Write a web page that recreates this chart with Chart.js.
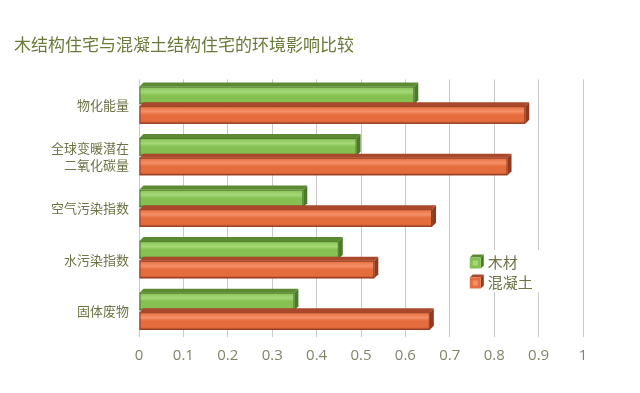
<!DOCTYPE html>
<html>
<head>
<meta charset="utf-8">
<script src="https://cdn.jsdelivr.net/npm/chart.js@4/dist/chart.umd.min.js"></script>
<style>
html,body{margin:0;padding:0;background:#fff;}
#wrap{width:640px;height:393px;}
</style>
</head>
<body>
<div id="wrap"><canvas id="c" width="640" height="393"></canvas></div>
<script>
const categories = ['物化能量', ['全球变暖潜在','二氧化碳量'], '空气污染指数', '水污染指数', '固体废物'];
const woodValues = [0.62, 0.49, 0.37, 0.45, 0.35];
const concreteValues = [0.87, 0.83, 0.66, 0.53, 0.655];
const seriesNames = ['木材', '混凝土'];
const xTicks = [0, 0.1, 0.2, 0.3, 0.4, 0.5, 0.6, 0.7, 0.8, 0.9, 1];

const FONT = '"Noto Sans CJK SC", "Noto Sans", sans-serif';
const palettes = [
  {front:'#86c052', light:'#a6d878', dark:'#5b8a33', edge:'#4d7a2a'},
  {front:'#e56c3c', light:'#f59068', dark:'#a9482a', edge:'#8f3b22'}
];

const bar3d = {
  id: 'bar3d',
  afterDatasetsDraw(chart) {
    const ctx = chart.ctx;
    const d = 4;
    chart.data.datasets.forEach((ds, di) => {
      const p = palettes[di];
      chart.getDatasetMeta(di).data.forEach(el => {
        const {x, y, base, height} = el.getProps(['x','y','base','height'], true);
        const top = y - height/2, bot = y + height/2;
        ctx.save();
        const g = ctx.createLinearGradient(0, top, 0, bot);
        g.addColorStop(0, p.front);
        g.addColorStop(0.3, p.light);
        g.addColorStop(0.5, p.front);
        g.addColorStop(0.85, p.front);
        g.addColorStop(1, p.dark);
        ctx.fillStyle = g;
        ctx.fillRect(base, top, x - base, height);
        ctx.strokeStyle = p.edge;
        ctx.lineWidth = 1;
        ctx.strokeRect(base + 0.5, top + 0.5, x - base - 1, height - 1);
        ctx.fillStyle = p.dark;
        ctx.beginPath();
        ctx.moveTo(base, top);
        ctx.lineTo(base + d, top - d);
        ctx.lineTo(x + d, top - d);
        ctx.lineTo(x, top);
        ctx.closePath();
        ctx.fill();
        ctx.fillStyle = p.edge;
        ctx.beginPath();
        ctx.moveTo(x, top);
        ctx.lineTo(x + d, top - d);
        ctx.lineTo(x + d, bot - d);
        ctx.lineTo(x, bot);
        ctx.closePath();
        ctx.fill();
        ctx.restore();
      });
    });
  }
};

const legend3d = {
  id: 'legend3d',
  afterDraw(chart) {
    const ctx = chart.ctx;
    const xs = chart.scales.x;
    const lx = xs.getPixelForValue(0.745);
    const ys = [262, 282];
    ctx.save();
    ctx.fillStyle = '#fff';
    ctx.fillRect(lx - 4, 250, 76, 42);
    seriesNames.forEach((name, i) => {
      const p = palettes[i];
      const cy = ys[i];
      const s = 11, d = 3;
      const bx = lx, by = cy - s/2 + 1;
      ctx.fillStyle = p.dark;
      ctx.beginPath();
      ctx.moveTo(bx, by); ctx.lineTo(bx + d, by - d); ctx.lineTo(bx + s + d, by - d); ctx.lineTo(bx + s, by); ctx.closePath(); ctx.fill();
      ctx.fillStyle = p.edge;
      ctx.beginPath();
      ctx.moveTo(bx + s, by); ctx.lineTo(bx + s + d, by - d); ctx.lineTo(bx + s + d, by + s - d); ctx.lineTo(bx + s, by + s); ctx.closePath(); ctx.fill();
      ctx.fillStyle = p.front;
      ctx.fillRect(bx, by, s, s);
      ctx.fillStyle = p.light;
      ctx.fillRect(bx + 3, by + 3, s - 6, s - 6);
      ctx.fillStyle = '#6e7346';
      ctx.font = '15px ' + FONT;
      ctx.textBaseline = 'middle';
      ctx.textAlign = 'left';
      ctx.fillText(name, bx + s + 7, cy);
    });
    ctx.restore();
  }
};

new Chart(document.getElementById('c'), {
  type: 'bar',
  data: {
    labels: categories,
    datasets: [
      {label: seriesNames[0], data: woodValues, backgroundColor: 'rgba(0,0,0,0)', borderWidth: 0},
      {label: seriesNames[1], data: concreteValues, backgroundColor: 'rgba(0,0,0,0)', borderWidth: 0}
    ]
  },
  options: {
    indexAxis: 'y',
    responsive: false,
    animation: false,
    categoryPercentage: 0.76,
    barPercentage: 0.9,
    layout: {padding: {left: 14, right: 57, top: 0, bottom: 0}},
    plugins: {
      legend: {display: false},
      tooltip: {enabled: false},
      title: {
        display: true,
        text: '木结构住宅与混凝土结构住宅的环境影响比较',
        align: 'start',
        color: '#6b7a3b',
        font: {family: FONT, size: 17, weight: 'normal'},
        padding: {top: 34, bottom: 25}
      }
    },
    scales: {
      x: {
        min: 0, max: 1,
        afterBuildTicks(scale) { scale.ticks = xTicks.map(v => ({value: v})); },
        afterFit(scale) { scale.height = 56; },
        grid: {color: '#c9c9c9', lineWidth: 1, drawTicks: false},
        border: {display: false},
        ticks: {
          color: '#80846a', padding: 10,
          font: {family: '"Open Sans", "Noto Sans", sans-serif', size: 15},
          callback: v => String(v)
        }
      },
      y: {
        afterFit(scale) { scale.width = 125; },
        grid: {display: false},
        border: {display: false},
        ticks: {
          color: '#6e7346', padding: 2,
          font: {family: FONT, size: 13, lineHeight: 1.3}
        }
      }
    }
  },
  plugins: [bar3d, legend3d]
});
</script>
</body>
</html>
